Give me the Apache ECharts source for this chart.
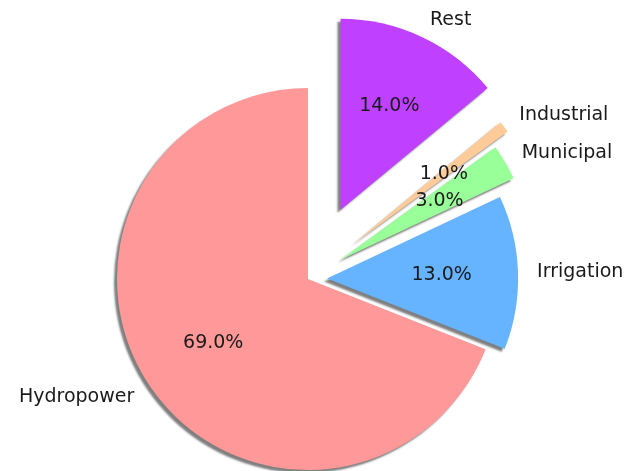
<!DOCTYPE html>
<html>
<head>
<meta charset="utf-8">
<script src="https://cdn.jsdelivr.net/npm/echarts@6/dist/echarts.min.js"></script>
<style>
  html, body { margin: 0; padding: 0; background: #fff; }
  #main { width: 631px; height: 471px; }
</style>
</head>
<body>
<div id="main"></div>
<script>
// water usage shares
var categories = ['Hydropower', 'Irrigation', 'Municipal', 'Industrial', 'Rest'];
var values = [69, 13, 3, 1, 14];
var explode = [0, 0.1, 0.2, 0.3, 0.4];
var colors = ['#ff9999', '#66b3ff', '#99ff99', '#ffcc99', '#c040ff'];

// layout of the pie in pixels
var CX = 308, CY = 279, R = 191;
var W = 631, H = 471;

var total = values.reduce(function (a, b) { return a + b; }, 0);
var cum = [];
var acc = 0;
values.forEach(function (v) { cum.push(acc); acc += v; });

var chart = echarts.init(document.getElementById('main'));
var font = 'DejaVu Sans';

function renderItem(params, api) {
  var i = params.dataIndex;
  var start = 90 + 360 * cum[i] / total;
  var end = start + 360 * values[i] / total;
  var mid = (start + end) / 2 * Math.PI / 180;
  var ex = explode[i] * Math.cos(mid);
  var ey = explode[i] * Math.sin(mid);
  var c = api.coord([ex, ey]);
  var r = api.coord([1, 0])[0] - api.coord([0, 0])[0];

  var lx = ex + 1.1 * Math.cos(mid);
  var ly = ey + 1.1 * Math.sin(mid);
  var lp = api.coord([lx, ly]);
  var pp = api.coord([ex + 0.6 * Math.cos(mid), ey + 0.6 * Math.sin(mid)]);

  return {
    type: 'group',
    children: [
      {
        type: 'sector',
        shape: {
          cx: c[0], cy: c[1], r: r, r0: 0,
          startAngle: -end * Math.PI / 180,
          endAngle: -start * Math.PI / 180,
          clockwise: true
        },
        style: {
          fill: colors[i],
          shadowColor: 'rgba(0,0,0,0.5)',
          shadowBlur: 2,
          shadowOffsetX: -3,
          shadowOffsetY: 3
        }
      },
      {
        type: 'text',
        z2: 10,
        x: lp[0], y: lp[1],
        style: {
          text: categories[i],
          fill: '#1a1a1a',
          fontSize: 19,
          fontFamily: font,
          align: lx > 0 ? 'left' : 'right',
          verticalAlign: 'middle'
        }
      },
      {
        type: 'text',
        z2: 10,
        x: pp[0], y: pp[1],
        style: {
          text: (values[i] / total * 100).toFixed(1) + '%',
          fill: '#1a1a1a',
          fontSize: 19,
          fontFamily: font,
          align: 'center',
          verticalAlign: 'middle'
        }
      }
    ]
  };
}

var option = {
  animation: false,
  backgroundColor: '#fff',
  grid: { left: 0, top: 0, right: 0, bottom: 0 },
  xAxis: { type: 'value', min: -CX / R, max: (W - CX) / R, show: false },
  yAxis: { type: 'value', min: -(H - CY) / R, max: CY / R, show: false },
  series: [
    {
      type: 'custom',
      renderItem: renderItem,
      data: values.map(function (v, i) { return [0, 0, v]; })
    }
  ]
};

chart.setOption(option);
</script>
</body>
</html>
